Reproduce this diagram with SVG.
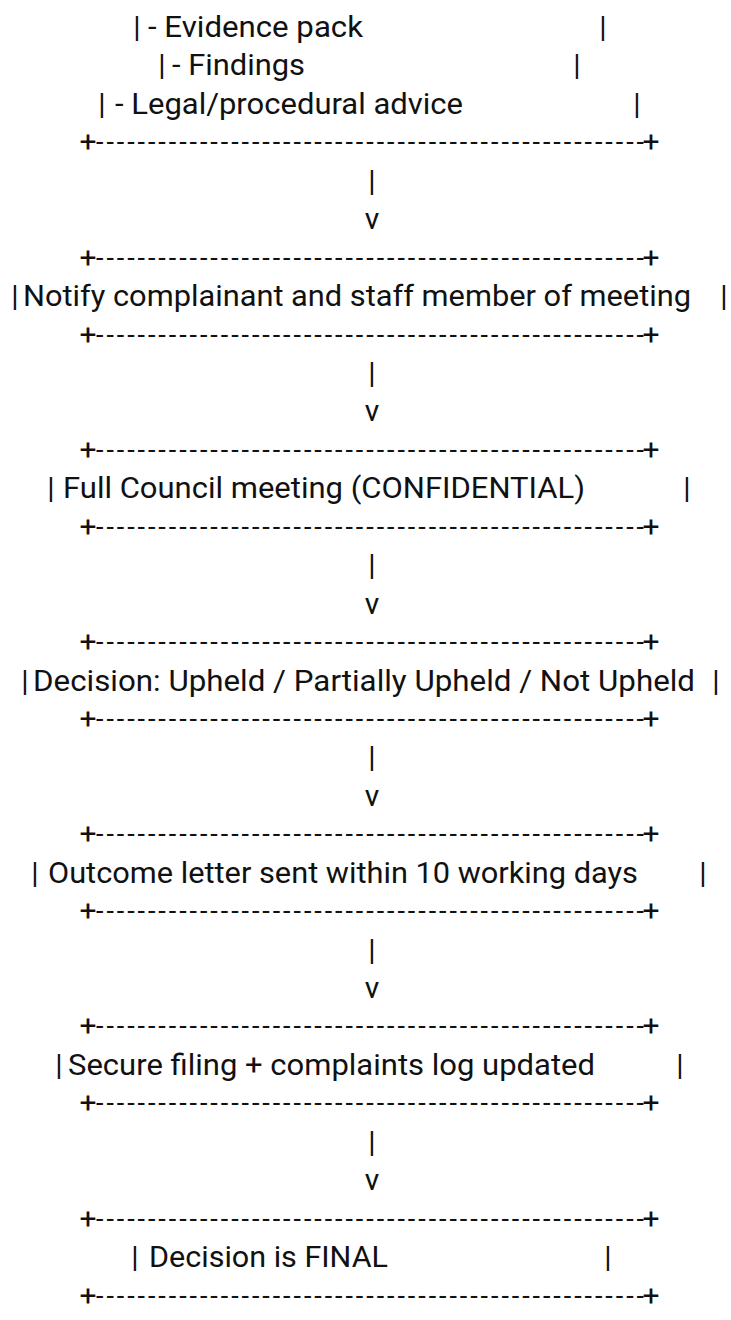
<svg xmlns="http://www.w3.org/2000/svg" width="731" height="1320" viewBox="0 0 731 1320">
<style>
text { font-family: Roboto, "Liberation Sans", sans-serif; font-size: 30px; fill: #111; }
.p { text-anchor: middle; }
.d { font-size: 27px; }
</style>
<defs>
  <g id="rule">
    <text class="p" x="88" y="0">+</text>
    <text class="d" x="96" y="-1" textLength="548" lengthAdjust="spacing">-----------------------------------------------------</text>
    <text class="p" x="651" y="0">+</text>
  </g>
</defs>
<rect width="731" height="1320" fill="#fff"/>
<g id="evidence-box">
  <text class="p" x="137" y="37">|</text>
  <text x="148" y="37" textLength="215" lengthAdjust="spacingAndGlyphs">- Evidence pack</text>
  <text class="p" x="603" y="37">|</text>
  <text class="p" x="162" y="75.4">|</text>
  <text x="172" y="75.4" textLength="133" lengthAdjust="spacingAndGlyphs">- Findings</text>
  <text class="p" x="577" y="75.4">|</text>
  <text class="p" x="102" y="113.9">|</text>
  <text x="115" y="113.9" textLength="348" lengthAdjust="spacingAndGlyphs">- Legal/procedural advice</text>
  <text class="p" x="637" y="113.9">|</text>
  <use href="#rule" y="152.3"/>
</g>
<g id="notify">
  <use href="#rule" y="267.6"/>
  <text class="p" x="15" y="306.1">|</text>
  <text x="23" y="306.1" textLength="668" lengthAdjust="spacingAndGlyphs">Notify complainant and staff member of meeting</text>
  <text class="p" x="724" y="306.1">|</text>
  <use href="#rule" y="344.5"/>
</g>
<g id="full-council">
  <use href="#rule" y="459.8"/>
  <text class="p" x="51" y="498.3">|</text>
  <text x="63" y="498.3" textLength="522" lengthAdjust="spacingAndGlyphs">Full Council meeting (CONFIDENTIAL)</text>
  <text class="p" x="687" y="498.3">|</text>
  <use href="#rule" y="536.7"/>
</g>
<g id="decision">
  <use href="#rule" y="652"/>
  <text class="p" x="25" y="690.5">|</text>
  <text x="33" y="690.5" textLength="662" lengthAdjust="spacingAndGlyphs">Decision: Upheld / Partially Upheld / Not Upheld</text>
  <text class="p" x="716" y="690.5">|</text>
  <use href="#rule" y="728.9"/>
</g>
<g id="outcome">
  <use href="#rule" y="844.2"/>
  <text class="p" x="35" y="882.7">|</text>
  <text x="48" y="882.7" textLength="590" lengthAdjust="spacingAndGlyphs">Outcome letter sent within 10 working days</text>
  <text class="p" x="703" y="882.7">|</text>
  <use href="#rule" y="921.1"/>
</g>
<g id="secure-filing">
  <use href="#rule" y="1036.4"/>
  <text class="p" x="59" y="1074.9">|</text>
  <text x="68" y="1074.9" textLength="527" lengthAdjust="spacingAndGlyphs">Secure filing + complaints log updated</text>
  <text class="p" x="680" y="1074.9">|</text>
  <use href="#rule" y="1113.3"/>
</g>
<g id="final">
  <use href="#rule" y="1228.6"/>
  <text class="p" x="135" y="1267.1">|</text>
  <text x="149" y="1267.1" textLength="239" lengthAdjust="spacingAndGlyphs">Decision is FINAL</text>
  <text class="p" x="608" y="1267.1">|</text>
  <use href="#rule" y="1305.5"/>
</g>
<g id="connectors">
  <text class="p" x="372" y="190.8">|</text>
  <text class="p" x="372" y="229.2">v</text>
  <text class="p" x="372" y="383">|</text>
  <text class="p" x="372" y="421.4">v</text>
  <text class="p" x="372" y="575.2">|</text>
  <text class="p" x="372" y="613.6">v</text>
  <text class="p" x="372" y="767.4">|</text>
  <text class="p" x="372" y="805.8">v</text>
  <text class="p" x="372" y="959.6">|</text>
  <text class="p" x="372" y="998">v</text>
  <text class="p" x="372" y="1151.8">|</text>
  <text class="p" x="372" y="1190.2">v</text>
</g>
</svg>
